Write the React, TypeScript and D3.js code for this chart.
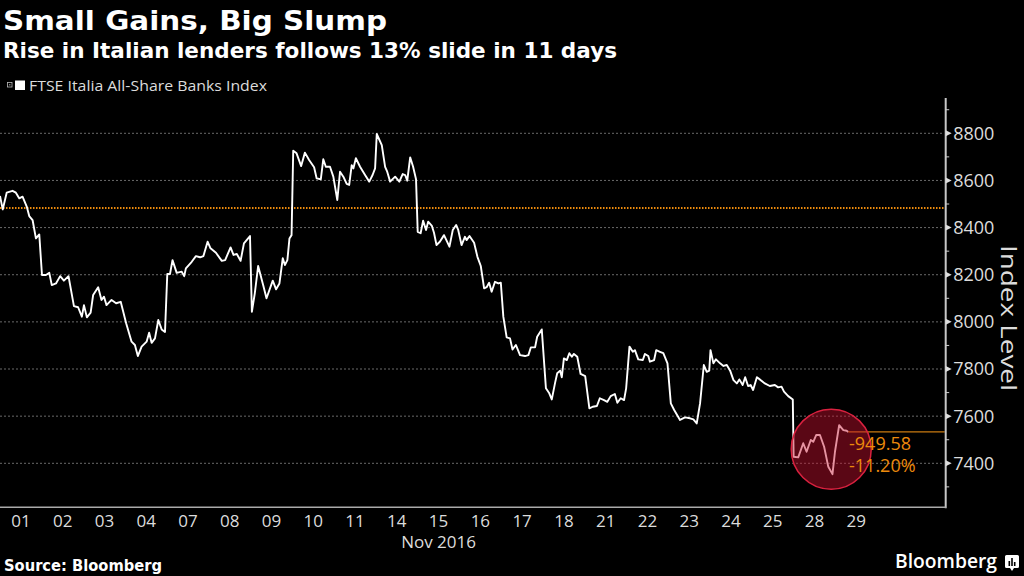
import React, { useEffect } from "react";
import * as d3 from "d3";

// ---- data ----
const dayLabels = ["01", "02", "03", "04", "07", "08", "09", "10", "11", "14", "15", "16", "17", "18", "21", "22", "23", "24", "25", "28", "29"];
const monthLabel = "Nov 2016";
const seriesName = "FTSE Italia All-Share Banks Index";

// time in trading sessions since the Nov 1 open (one unit = one session)
const tradingTime = [
  0, 0.065, 0.16, 0.3, 0.38, 0.46, 0.54, 0.64, 0.7, 0.78, 0.86, 0.94,
  1.005, 1.1, 1.18, 1.24, 1.34, 1.44, 1.53, 1.64, 1.77, 1.87, 1.96,
  2.01, 2.08, 2.17, 2.23, 2.35, 2.43, 2.49, 2.55, 2.67, 2.78, 2.89,
  3.02, 3.15, 3.23, 3.3, 3.39, 3.51, 3.57, 3.63, 3.71, 3.79, 3.87, 3.95,
  4.005, 4.07, 4.13, 4.23, 4.35, 4.41, 4.45, 4.59, 4.69, 4.79, 4.87, 4.97,
  5.04, 5.17, 5.31, 5.39, 5.52, 5.59, 5.67, 5.76, 5.84, 5.985,
  6.03, 6.1, 6.18, 6.3, 6.38, 6.53, 6.61, 6.69, 6.77, 6.82, 6.88, 6.93, 6.98,
  7.02, 7.1, 7.21, 7.3, 7.4, 7.52, 7.58, 7.68, 7.74, 7.8, 7.9, 7.98,
  8.075, 8.14, 8.22, 8.3, 8.36, 8.42, 8.46, 8.52, 8.62, 8.74, 8.84, 8.92, 8.98,
  9.02, 9.14, 9.22, 9.27, 9.34, 9.46, 9.56, 9.64, 9.7, 9.75, 9.82, 9.89, 9.96,
  10.0, 10.07, 10.13, 10.2, 10.25, 10.34, 10.39, 10.45, 10.53, 10.63, 10.76, 10.84, 10.92, 10.97,
  11.05, 11.13, 11.17, 11.24, 11.35, 11.43, 11.51, 11.59, 11.65, 11.71, 11.77, 11.85, 11.93, 11.99,
  12.05, 12.13, 12.21, 12.27, 12.35, 12.45, 12.57, 12.65, 12.71, 12.81, 12.86, 12.97,
  13.07, 13.15, 13.21, 13.29, 13.34, 13.41, 13.45, 13.5, 13.57, 13.63, 13.69, 13.74, 13.82, 13.9,
  14.01, 14.11, 14.19, 14.29, 14.36, 14.46, 14.54, 14.62, 14.72, 14.78, 14.86, 14.94, 14.99,
  15.07, 15.15, 15.2, 15.28, 15.39, 15.44, 15.52, 15.56, 15.66, 15.71, 15.8, 15.88, 15.98,
  16.06, 16.14, 16.28, 16.4, 16.52, 16.6, 16.68, 16.76, 16.85, 16.92, 16.98,
  17.01, 17.08, 17.14, 17.24, 17.32, 17.4, 17.48, 17.56, 17.64, 17.7, 17.78, 17.84, 17.91, 17.97,
  18.03, 18.12, 18.19, 18.31, 18.43, 18.55, 18.63, 18.71, 18.77, 18.87, 18.98,
  19.0, 19.11, 19.23, 19.31, 19.41, 19.47, 19.54, 19.63, 19.73, 19.83, 19.93, 19.99,
  20.09, 20.19, 20.27, 20.31,
];

const indexLevel = [
  8534, 8477, 8548, 8556, 8548, 8524, 8531, 8489, 8449, 8432, 8354, 8371,
  8199, 8199, 8208, 8156, 8163, 8194, 8175, 8194, 8067, 8062, 8022,
  8071, 8019, 8039, 8114, 8147, 8093, 8107, 8071, 8093, 8079, 8085,
  7994, 7916, 7902, 7855, 7895, 7916, 7954, 7911, 7930, 8008, 7968, 7957,
  8203, 8203, 8262, 8208, 8213, 8194, 8227, 8255, 8279, 8274, 8279, 8340,
  8312, 8293, 8259, 8262, 8316, 8284, 8288, 8259, 8333, 8364,
  8043, 8121, 8237, 8156, 8100, 8175, 8138, 8163, 8270, 8241, 8262, 8354, 8368,
  8726, 8715, 8661, 8718, 8687, 8656, 8609, 8605, 8690, 8658, 8658, 8616,
  8517, 8637, 8616, 8585, 8581, 8665, 8651, 8694, 8658, 8623, 8595, 8623, 8651,
  8797, 8750, 8658, 8637, 8595, 8616, 8595, 8627, 8623, 8599, 8698, 8658, 8605,
  8382, 8376, 8429, 8390, 8425, 8407, 8378, 8326, 8340, 8368, 8319, 8390, 8411, 8390,
  8326, 8361, 8347, 8364, 8336, 8276, 8237, 8142, 8147, 8166, 8128, 8170, 8163, 8166,
  8022, 7934, 7930, 7883, 7902, 7859, 7855, 7859, 7892, 7892, 7937, 7968,
  7718, 7697, 7671, 7742, 7782, 7793, 7765, 7845, 7838, 7867, 7852, 7864, 7852, 7779,
  7770, 7633, 7640, 7643, 7676, 7668, 7661, 7685, 7694, 7657, 7676, 7668, 7718,
  7895, 7873, 7880, 7841, 7838, 7864, 7855, 7831, 7838, 7880, 7873, 7867, 7824,
  7654, 7626, 7584, 7595, 7591, 7586, 7569, 7654, 7817, 7788, 7793,
  7880, 7824, 7841, 7824, 7813, 7817, 7793, 7753, 7739, 7756, 7732, 7765, 7728, 7732,
  7711, 7765, 7756, 7739, 7728, 7732, 7722, 7725, 7704, 7685, 7671,
  7428, 7425, 7485, 7449, 7499, 7491, 7520, 7520, 7470, 7385, 7354, 7449,
  7562, 7541, 7538, 7533,
];

const yTickValues = [7400, 7600, 7800, 8000, 8200, 8400, 8600, 8800];
const yMinorTickValues = [7300, 7500, 7700, 7900, 8100, 8300, 8500, 8700, 8900];
const referenceLevel = 8482.58;
const changeLabels = ["-949.58", "-11.20%"];
const highlightTime = 19.9;
const highlightLevel = 7460;

// ---- layout ----
const W = 1024;
const H = 576;
const plotLeft = 0;
const plotRight = 945.7;
const plotTop = 98;
const plotBottom = 507.3;
const sessionWidth = 41.77;
const FONT = "'Open Sans', 'DejaVu Sans', sans-serif";
const BOLD = "'DejaVu Sans', 'Open Sans', sans-serif";
const ORANGE = "#ec8a0c";
const LABEL = "#dcdcdc";

export default function App() {
  useEffect(() => {
    document.body.style.margin = "0";
    document.body.style.background = "#000";
  }, []);

  const x = d3
    .scaleLinear()
    .domain([0, (plotRight - plotLeft) / sessionWidth])
    .range([plotLeft, plotRight]);
  const y = d3.scaleLinear().domain([7400, 8800]).range([463.3, 133.3]);

  const points: [number, number][] = tradingTime.map((t, i) => [t, indexLevel[i]]);
  const linePath = d3
    .line<[number, number]>()
    .x((d) => x(d[0]))
    .y((d) => y(d[1]))(points);

  const last = points[points.length - 1];
  const lastX = x(last[0]);
  const lastY = y(last[1]);

  return (
    <svg width={W} height={H} style={{ display: "block", position: "absolute", left: 0, top: 0, background: "#000" }}>
      <rect x={0} y={0} width={W} height={H} fill="#000" />

      {/* titles */}
      <text x={3} y={30} fill="#fff" fontFamily={BOLD} fontWeight={700} fontSize={27} textLength={384} lengthAdjust="spacingAndGlyphs">
        Small Gains, Big Slump
      </text>
      <text x={3} y={57.5} fill="#fff" fontFamily={BOLD} fontWeight={700} fontSize={21.5} textLength={614} lengthAdjust="spacingAndGlyphs">
        Rise in Italian lenders follows 13% slide in 11 days
      </text>

      {/* legend */}
      <rect x={7.5} y={82.5} width={4.5} height={4.5} fill="none" stroke="#bbb" strokeWidth={0.8} />
      <rect x={9.2} y={84.2} width={1.2} height={1.2} fill="#bbb" />
      <rect x={15} y={80.5} width={10} height={9.5} fill="#fff" />
      <text x={29} y={90.5} fill={LABEL} fontFamily={FONT} fontSize={14.5} textLength={238} lengthAdjust="spacingAndGlyphs">
        {seriesName}
      </text>

      {/* grid */}
      {yTickValues.map((v) => (
        <line key={"g" + v} x1={plotLeft} x2={plotRight - 2} y1={y(v)} y2={y(v)} stroke="#6a6a6a" strokeWidth={1} strokeDasharray="2,2" />
      ))}

      {/* reference level */}
      <line x1={plotLeft} x2={plotRight - 2} y1={y(referenceLevel)} y2={y(referenceLevel)} stroke={ORANGE} strokeWidth={2} strokeDasharray="1.5,1.5" />

      {/* series */}
      <path d={linePath || ""} fill="none" stroke="#fff" strokeWidth={1.9} strokeLinejoin="round" />

      {/* last value line */}
      <line x1={lastX} x2={plotRight - 1} y1={lastY} y2={lastY} stroke="#c97a10" strokeWidth={1.2} />

      {/* highlight circle */}
      <circle cx={x(highlightTime)} cy={y(highlightLevel)} r={40} fill="#c8102e" fillOpacity={0.45} stroke="#d9213f" strokeWidth={1.5} />

      {/* change labels */}
      <text x={849} y={450} fill={ORANGE} fontFamily={FONT} fontSize={18}>
        {changeLabels[0]}
      </text>
      <text x={849} y={471.5} fill={ORANGE} fontFamily={FONT} fontSize={18}>
        {changeLabels[1]}
      </text>

      {/* axes lines */}
      <line x1={plotRight} x2={plotRight} y1={plotTop} y2={plotBottom + 1} stroke="#c8c8c8" strokeWidth={2} />
      <line x1={plotLeft} x2={plotRight} y1={plotBottom} y2={plotBottom} stroke="#aaa" strokeWidth={1.5} />

      {/* y ticks */}
      {yMinorTickValues.map((v) => (
        <line key={"m" + v} x1={plotRight} x2={plotRight + 3.5} y1={y(v)} y2={y(v)} stroke="#ccc" strokeWidth={1} />
      ))}
      {yTickValues.map((v) => (
        <g key={"t" + v}>
          <path d={`M${plotRight},${y(v) - 3} L${plotRight + 6},${y(v)} L${plotRight},${y(v) + 3} Z`} fill="#ddd" />
          <text x={plotRight + 7.5} y={y(v)} dy="0.36em" fill={LABEL} fontFamily={FONT} fontSize={18}>
            {d3.format("d")(v)}
          </text>
        </g>
      ))}
      <text transform={`translate(1001,318) rotate(90)`} textAnchor="middle" fill={LABEL} fontFamily={FONT} fontSize={21.5} textLength={146} lengthAdjust="spacingAndGlyphs">
        Index Level
      </text>

      {/* x labels */}
      {dayLabels.map((d, i) => (
        <text key={"d" + d} x={x(i + 0.5)} y={527} textAnchor="middle" fill={LABEL} fontFamily={FONT} fontSize={17}>
          {d}
        </text>
      ))}
      <text x={x(10.5)} y={548} textAnchor="middle" fill={LABEL} fontFamily={FONT} fontSize={17}>
        {monthLabel}
      </text>

      {/* footer */}
      <text x={4} y={570.5} fill="#fff" fontFamily={BOLD} fontWeight={700} fontSize={15} textLength={158} lengthAdjust="spacingAndGlyphs">
        Source: Bloomberg
      </text>
      <text x={895} y={567.5} fill="#fff" fontFamily={FONT} fontWeight={600} fontSize={19} textLength={102} lengthAdjust="spacingAndGlyphs">
        Bloomberg
      </text>
      <g transform="translate(1005,555)">
        <path d="M1.5,0 H12.5 Q14,0 14,1.5 V11.5 Q14,13 12.5,13 H9 L7,16 L5,13 H1.5 Q0,13 0,11.5 V1.5 Q0,0 1.5,0 Z" fill="#fff" />
        <rect x={3.5} y={6} width={1.6} height={5} fill="#000" />
        <rect x={6.2} y={3} width={1.6} height={8} fill="#000" />
        <rect x={8.9} y={7} width={1.6} height={4} fill="#000" />
      </g>
    </svg>
  );
}
